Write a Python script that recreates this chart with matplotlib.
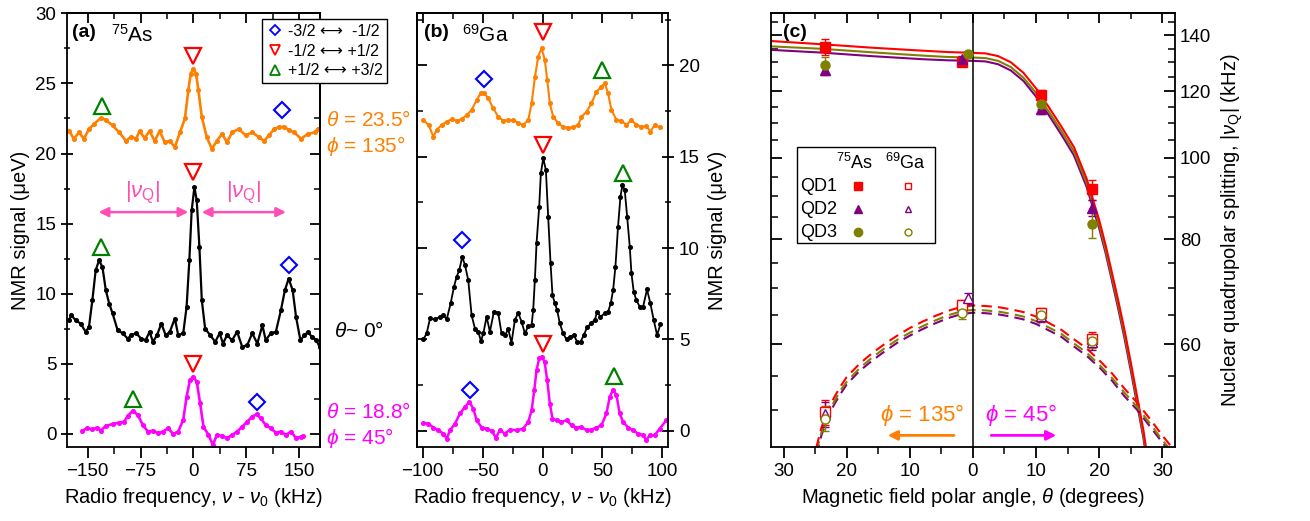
import numpy as np
import matplotlib.pyplot as plt
from matplotlib.lines import Line2D
from matplotlib.patches import Rectangle
from matplotlib.ticker import MultipleLocator, FixedLocator, FuncFormatter, NullFormatter

plt.rcParams['font.family'] = ['Liberation Sans', 'DejaVu Sans']
plt.rcParams['mathtext.fontset'] = 'custom'
plt.rcParams['mathtext.rm'] = 'Liberation Sans'
plt.rcParams['mathtext.it'] = 'Liberation Sans:italic'
plt.rcParams['mathtext.bf'] = 'Liberation Sans:bold'
plt.rcParams['axes.linewidth'] = 1.3

ORANGE = '#ff8000'
MAGENTA = '#ff00ff'
PINK = '#ff4fb4'
RED = '#ff0000'
PURPLE = '#800080'
OLIVE = '#808000'
GREEN = '#008000'
BLUE = '#0000ff'

# ---------------- panel (a): 75As spectra ----------------
a_orange_x = [-177, -169.8, -162.6, -155.5, -148.3, -141.1, -131.6, -124.4, -114.8, -105.3,
              -95.7, -88.5, -81.3, -76.5, -69.4, -62.2, -55.0, -47.8, -40.7, -33.5,
              -26.3, -19.1, -12.0, -7.2, -3.8, 0, 3.8, 7.2, 12, 19.1,
              26.3, 33.5, 40.7, 47.8, 55.0, 64.6, 74.1, 83.7, 93.3, 100.5,
              107.6, 114.8, 122.0, 129.2, 136.4, 143.5, 153.1, 162.7, 172.2, 177]
a_orange_y = [21.64, 21.05, 21.5, 21.05, 21.75, 22.1, 22.54, 22.4, 22.0, 21.5,
              20.9, 21.2, 21.05, 21.6, 21.1, 21.6, 20.9, 21.6, 20.8, 20.9,
              20.45, 21.5, 22.5, 24.5, 25.7, 26.03, 25.7, 24.5, 22.6, 21.16,
              20.33, 20.9, 21.4, 20.8, 21.5, 21.75, 21.3, 21.5, 21.16, 20.9,
              21.3, 21.75, 21.9, 21.9, 21.65, 21.5, 21.05, 21.4, 21.5, 21.75]

a_black_x = [-177, -173.2, -167.4, -160.2, -153.0, -148.3, -143.5, -138.8, -134, -129.2,
             -124.4, -119.6, -114.8, -107.7, -100.5, -93.3, -88.5, -81.3, -74.1, -67.9,
             -62.2, -57.4, -51.7, -45.5, -39.3, -33.5, -26.3, -21.5, -14.4, -9.6,
             -5.7, -2.4, 1.5, 4.8, 8.6, 12, 16.7, 23.9, 31.1, 37.3,
             42.1, 47.8, 55.0, 62.2, 69.4, 76.5, 83.7, 90.9, 98.1, 102.8,
             110.0, 117.2, 124.4, 130.1, 135.4, 141.1, 145.9, 152.1, 157.9, 162.7,
             168.4, 174.6, 179.4]
a_black_y = [8.11, 8.46, 8.11, 7.87, 7.28, 7.64, 9.54, 11.67, 12.38, 11.91,
             10.25, 9.3, 8.6, 7.41, 7.18, 6.8, 7.04, 7.18, 6.8, 6.69,
             7.28, 6.57, 7.04, 7.87, 7.04, 7.28, 8.23, 7.04, 7.18, 9.07,
             12.38, 15.94, 17.6, 16.65, 13.33, 9.54, 7.52, 7.04, 6.57, 7.18,
             6.45, 7.04, 6.69, 7.28, 6.22, 6.33, 7.18, 6.45, 7.75, 6.69,
             7.18, 7.28, 8.82, 10.25, 11.08, 10.25, 8.35, 6.69, 7.04, 7.28,
             6.93, 6.69, 6.22]

a_magenta_x = [-157.8, -150.7, -143.5, -136.4, -131.6, -124.4, -114.8, -105.3, -98.1, -93.3,
               -86.1, -78.9, -71.8, -64.6, -57.4, -50.2, -43.1, -35.9, -28.7, -21.5,
               -14.4, -9.6, -4.8, 0, 4.8, 9.6, 14.4, 21.5, 27.7, 33.5,
               40.7, 47.8, 55.0, 62.2, 69.4, 76.5, 83.7, 89.9, 95.7, 102.8,
               110.0, 117.2, 124.4, 131.6, 138.8, 146, 153.1, 155.5]
a_magenta_y = [0.24, 0.41, 0.33, 0.45, 0.24, 0.57, 0.71, 0.81, 0.88, 1.28,
               1.66, 1.35, 0.64, 0.17, 0.24, 0.05, 0.17, 0.41, 0.0, 0.17,
               1.0, 2.66, 3.84, 4.08, 3.72, 2.18, 0.52, -0.07, -0.78, -0.07,
               -0.14, -0.31, -0.07, 0.17, 0.52, 0.88, 1.24, 1.40, 1.12, 0.64,
               0.41, 0.09, 0.17, -0.07, 0.17, -0.31, -0.19, -0.14]

# transition markers (a): (x, y) for orange, black, magenta traces
a_diam_x = [125.9, 135.4, 90.9]
a_diam_y = [23.1, 12.03, 2.25]
a_down_x = [0, 0, 0]
a_down_y = [26.97, 18.67, 4.98]
a_up_x = [-129.2, -131.6, -85.2]
a_up_y = [23.4, 13.33, 2.47]

# ---------------- panel (b): 69Ga spectra ----------------
b_orange_x = [-99.5, -95.1, -91.1, -88.3, -84.2, -80.0, -75.8, -71.7, -67.5, -63.3,
              -59.2, -55.0, -51.7, -48.9, -45.3, -41.1, -37.0, -32.8, -28.6, -24.4,
              -20.3, -16.1, -11.9, -9.1, -6.3, -3.6, -0.8, 1.9, 3.9, 6.1,
              8.9, 13.1, 17.2, 21.4, 25.6, 29.7, 32.5, 36.7, 40.8, 45.0,
              49.2, 51.9, 54.7, 57.5, 61.7, 65.8, 70.0, 74.2, 78.3, 82.5,
              86.7, 90.0, 93.6, 97.8]
b_orange_y = [17.01, 16.74, 16.1, 16.48, 16.74, 16.92, 17.05, 16.98, 17.05, 17.28,
              17.56, 18.1, 18.47, 18.5, 18.19, 17.65, 17.19, 16.98, 17.01, 17.01,
              16.83, 16.74, 17.01, 17.92, 19.38, 20.48, 20.94, 20.3, 19.2, 17.92,
              17.19, 16.83, 16.64, 16.59, 16.61, 16.74, 17.19, 17.46, 17.92, 18.56,
              18.83, 19.02, 18.47, 17.56, 17.01, 16.98, 16.74, 17.01, 16.74, 16.64,
              16.68, 16.37, 16.74, 16.61]

b_black_x = [-99.5, -96.7, -93.9, -89.7, -85.6, -82.8, -80.0, -76.7, -73.9, -71.7,
             -69.5, -67.0, -64.7, -62.0, -59.2, -56.4, -53.6, -51.4, -49.4, -46.7,
             -43.9, -40.6, -37.0, -34.2, -31.4, -28.6, -25.9, -23.1, -20.3, -17.5,
             -14.7, -11.9, -9.1, -7.8, -6.4, -5.0, -2.8, -1.4, 0.6, 2.8,
             4.7, 6.7, 8.3, 10.3, 12.2, 14.4, 17.2, 20.0, 22.8, 26.1,
             28.9, 31.7, 34.4, 37.2, 40.8, 43.6, 45.6, 48.3, 51.9, 54.7,
             56.9, 58.9, 60.8, 63.0, 65.0, 66.7, 68.6, 70.6, 72.8, 74.2,
             76.1, 78.3, 81.1, 83.9, 87.2, 90.0, 92.8, 95.6, 98.3]
b_black_y = [5.0, 5.33, 6.15, 6.1, 6.24, 6.33, 6.1, 6.97, 7.88, 8.43,
             8.79, 9.52, 9.07, 8.25, 6.33, 5.6, 5.42, 4.91, 5.33, 6.24,
             5.42, 6.52, 6.46, 5.33, 5.24, 5.55, 4.82, 6.06, 6.46, 5.97,
             5.33, 5.73, 5.79, 6.61, 8.25, 10.26, 12.26, 14.09, 14.91, 14.27,
             11.72, 9.16, 7.43, 6.97, 6.61, 5.88, 5.33, 5.0, 5.15, 5.24,
             4.87, 4.87, 5.24, 5.66, 5.91, 6.06, 6.52, 6.24, 6.43, 6.52,
             6.97, 7.7, 8.97, 11.17, 12.81, 13.45, 13.17, 11.72, 10.07, 8.61,
             7.61, 7.15, 6.79, 6.79, 7.74, 6.97, 6.06, 5.24, 5.82]

b_magenta_x = [-99.5, -95.3, -91.1, -86.9, -82.8, -80.0, -77.2, -73.0, -68.9, -64.7,
               -61.1, -57.8, -55.0, -50.8, -46.7, -42.5, -38.9, -35.6, -31.4, -27.2,
               -21.7, -16.1, -11.9, -9.1, -6.9, -5.0, -2.8, -0.6, 1.7, 3.9,
               6.1, 8.3, 11.7, 15.8, 20.0, 24.2, 28.3, 32.5, 36.7, 40.8,
               45.0, 49.2, 53.3, 56.1, 58.9, 61.7, 64.4, 67.2, 71.4, 75.6,
               79.7, 83.9, 86.7, 89.4, 93.6, 97.8, 103.3]
b_magenta_y = [0.43, 0.4, 0.18, 0.03, -0.15, -0.42, 0.03, 0.4, 0.95, 1.31,
               1.58, 1.22, 0.58, 0.18, 0.12, 0.0, -0.37, 0.03, -0.15, 0.07,
               0.03, 0.12, 0.49, 1.13, 2.22, 3.32, 3.96, 4.05, 3.78, 2.77,
               1.49, 0.67, 0.58, 0.49, 0.58, 0.3, 0.18, 0.21, 0.03, 0.07,
               0.18, 0.3, 0.95, 1.86, 2.26, 1.95, 0.95, 0.49, 0.18, 0.03,
               -0.15, -0.24, -0.51, -0.24, -0.24, 0.12, 0.58]

b_diam_x = [-48.9, -67.0, -60.6]
b_diam_y = [19.24, 10.44, 2.26]
b_down_x = [0, 0, 0]
b_down_y = [21.85, 15.64, 4.74]
b_up_x = [49.6, 67.2, 59.4]
b_up_y = [19.75, 14.09, 2.99]

# ---------------- panel (c): quadrupolar splitting vs angle ----------------
# negative theta = phi 135 deg side, positive = phi 45 deg side
c_theta = [-23.5, -1.8, 10.8, 18.8]
c_theta_qd3 = [-23.5, -0.8, 10.8, 18.8]
as_qd1 = [135.7, 130.1, 118.9, 91.7]
as_qd1_err = [3.0, 1.5, 1.5, 2.5]
as_qd2 = [127.4, 131.0, 114.4, 87.2]
as_qd2_err = [2.0, 1.2, 1.5, 2.0]
as_qd3 = [128.9, 133.1, 116.0, 83.3]
as_qd3_err = [3.0, 1.0, 1.5, 3.0]
ga_qd1 = [49.8, 66.8, 65.3, 60.8]
ga_qd1_err = [1.7, 1.0, 1.0, 1.2]
ga_qd2 = [49.5, 68.0, 64.8, 60.3]
ga_qd2_err = [1.7, 1.0, 1.0, 1.2]
ga_qd3 = [48.9, 65.3, 65.0, 60.5]
ga_qd3_err = [1.7, 1.0, 1.0, 1.2]

# fitted curves
as_fit_theta = [-32, -24, -16, -8, -4, 0, 2, 4, 6, 8, 10, 12, 14, 16, 18, 20, 21, 22, 23, 24, 25, 26, 27, 27.6]
as_fit_qd1 = [137.8, 136.6, 135.3, 134.2, 133.7, 133.4, 133.2, 132.2, 130.0, 126.3, 121.0, 115.0,
              109.0, 103.0, 94.5, 84.3, 78.8, 73.1, 67.7, 62.4, 57.1, 52.0, 47.4, 44.2]
as_fit_qd3 = [135.8, 134.9, 133.6, 132.4, 131.9, 131.7, 131.5, 130.5, 128.3, 124.6, 119.5, 113.6,
              107.7, 101.8, 93.4, 83.3, 77.8, 72.2, 66.9, 61.6, 56.4, 51.4, 46.8, 43.7]
as_fit_qd2 = [134.5, 133.5, 132.2, 131.1, 130.7, 130.5, 130.3, 129.3, 127.1, 123.5, 118.3, 112.5,
              106.6, 100.7, 92.4, 82.4, 77.1, 71.5, 66.2, 61.0, 55.8, 50.9, 46.4, 43.2]

ga_fit_theta = [-24.8, -24, -23, -22, -21, -20, -18, -16, -14, -12, -10, -8, -6, -4, -2,
                0, 2, 4, 6, 8, 10, 12, 14, 16, 18, 20, 22, 24, 26, 28, 30, 31.6]
ga_fit_qd1 = [45.2, 47.7, 50.0, 51.8, 53.4, 54.8, 56.8, 58.5, 60.0, 61.4, 62.7, 63.8, 64.8, 65.7, 66.4,
              66.7, 66.6, 66.4, 66.0, 65.5, 64.7, 63.6, 62.4, 60.8, 59.3, 57.4, 55.4, 53.1, 51.1, 48.9, 46.7, 45.1]
ga_fit_qd3 = [44.7, 47.1, 49.4, 51.2, 52.8, 54.1, 56.1, 57.8, 59.3, 60.7, 61.9, 63.0, 64.0, 64.9, 65.6,
              65.9, 65.8, 65.6, 65.2, 64.7, 63.9, 62.8, 61.7, 60.1, 58.6, 56.7, 54.7, 52.5, 50.5, 48.3, 46.1, 44.6]
ga_fit_qd2 = [44.3, 46.7, 49.0, 50.8, 52.3, 53.7, 55.7, 57.3, 58.8, 60.2, 61.4, 62.5, 63.5, 64.4, 65.1,
              65.4, 65.3, 65.1, 64.7, 64.2, 63.4, 62.3, 61.2, 59.6, 58.1, 56.3, 54.3, 52.0, 50.1, 47.9, 45.8, 44.2]

# ---------------- figure ----------------
fig = plt.figure(figsize=(13.1, 5.21), dpi=100)
axa = fig.add_axes([0.0509, 0.1415, 0.1934, 0.833])
axb = fig.add_axes([0.3181, 0.1415, 0.1921, 0.833])
axc = fig.add_axes([0.5885, 0.1415, 0.3084, 0.833])

TS = 13.5
LS = 14.5


def top_ticks(ax, maj, mnr):
    sec = ax.secondary_xaxis('top')
    sec.xaxis.set_major_locator(maj)
    sec.xaxis.set_minor_locator(mnr)
    sec.xaxis.set_major_formatter(NullFormatter())
    sec.tick_params(which='major', direction='in', length=7, width=1.3)
    sec.tick_params(which='minor', direction='in', length=4, width=1.1)
    sec.spines['top'].set_linewidth(1.3)
    return sec


def side_ticks(ax, side, maj, mnr):
    sec = ax.secondary_yaxis(side)
    sec.yaxis.set_major_locator(maj)
    sec.yaxis.set_minor_locator(mnr)
    sec.yaxis.set_major_formatter(NullFormatter())
    sec.yaxis.set_minor_formatter(NullFormatter())
    sec.tick_params(which='major', direction='in', length=7, width=1.3)
    sec.tick_params(which='minor', direction='in', length=4, width=1.1)
    sec.spines[side].set_linewidth(1.3)
    return sec


def spectrum(ax, x, y, c, lw):
    ax.plot(x, y, '-o', color=c, lw=lw, ms=2.6, mfc=c, mec=c)


def markers(ax, dx, dy, vx, vy, ux, uy):
    ax.plot(dx, dy, ls='none', marker='D', mfc='none', mec=BLUE, ms=8, mew=1.5)
    ax.plot(vx, vy, ls='none', marker='v', mfc='none', mec=RED, ms=11, mew=1.6)
    ax.plot(ux, uy, ls='none', marker='^', mfc='none', mec=GREEN, ms=11, mew=1.6)


# panel (a)
spectrum(axa, a_orange_x, a_orange_y, ORANGE, 1.9)
spectrum(axa, a_black_x, a_black_y, 'black', 1.6)
spectrum(axa, a_magenta_x, a_magenta_y, MAGENTA, 1.9)
markers(axa, a_diam_x, a_diam_y, a_down_x, a_down_y, a_up_x, a_up_y)
axa.set_xlim(-180, 180)
axa.set_ylim(-0.95, 30)
axa.xaxis.set_major_locator(MultipleLocator(75))
axa.xaxis.set_minor_locator(MultipleLocator(37.5))
axa.yaxis.set_major_locator(MultipleLocator(5))
axa.yaxis.set_minor_locator(MultipleLocator(2.5))
axa.tick_params(axis='x', which='both', direction='out', labelsize=TS)
axa.tick_params(axis='y', which='both', direction='inout', labelsize=TS, right=False)
axa.tick_params(which='major', length=8, width=1.3)
axa.tick_params(which='minor', length=5, width=1.1)
top_ticks(axa, MultipleLocator(75), MultipleLocator(37.5))
side_ticks(axa, 'right', MultipleLocator(5), MultipleLocator(2.5))
axa.set_xlabel(r'Radio frequency, $\nu$ - $\nu_0$ (kHz)', fontsize=LS)
axa.set_ylabel('NMR signal (\u03bceV)', fontsize=LS, labelpad=4)
axa.text(0.02, 0.975, '(a)', transform=axa.transAxes, fontsize=14, fontweight='bold', va='top')
axa.text(0.175, 0.975, r'$^{75}$As', transform=axa.transAxes, fontsize=15, va='top')

for x0, x1 in [(-134.6, -7.2), (12.0, 131.6)]:
    axa.annotate('', xy=(x0, 15.82), xytext=(x1, 15.82),
                 arrowprops=dict(arrowstyle='<|-|>', color=PINK, lw=1.8,
                                 mutation_scale=14, shrinkA=0, shrinkB=0))
axa.text(-71.8, 17.2, r'|$\nu_\mathrm{Q}$|', color=PINK, fontsize=16, ha='center', va='center')
axa.text(71.6, 17.2, r'|$\nu_\mathrm{Q}$|', color=PINK, fontsize=16, ha='center', va='center')

leg_a = [Line2D([], [], ls='none', marker='D', mfc='none', mec=BLUE, ms=5.5, mew=1.3,
                label='-3/2 \u27f7  -1/2'),
         Line2D([], [], ls='none', marker='v', mfc='none', mec=RED, ms=7, mew=1.3,
                label='-1/2 \u27f7 +1/2'),
         Line2D([], [], ls='none', marker='^', mfc='none', mec=GREEN, ms=7, mew=1.3,
                label='+1/2 \u27f7 +3/2')]
lg = fig.legend(handles=leg_a, loc='upper left', bbox_to_anchor=(262 / 1310, 1 - 19 / 521),
                frameon=True, fancybox=False, edgecolor='black', framealpha=1,
                fontsize=11.5, handletextpad=0.3, borderpad=0.3, labelspacing=0.3,
                handlelength=1.0, borderaxespad=0)
lg.get_frame().set_linewidth(1.0)

# labels between (a) and (b)
fig.text(326 / 1310, 1 - 120 / 521, r'$\theta$ = 23.5°', color=ORANGE, fontsize=15, va='center')
fig.text(326 / 1310, 1 - 146 / 521, r'$\phi$ = 135°', color=ORANGE, fontsize=15, va='center')
fig.text(334 / 1310, 1 - 331 / 521, r'$\theta$~ 0°', color='black', fontsize=15, va='center')
fig.text(326 / 1310, 1 - 412 / 521, r'$\theta$ = 18.8°', color=MAGENTA, fontsize=15, va='center')
fig.text(326 / 1310, 1 - 438 / 521, r'$\phi$ = 45°', color=MAGENTA, fontsize=15, va='center')

# panel (b)
spectrum(axb, b_orange_x, b_orange_y, ORANGE, 1.5)
spectrum(axb, b_black_x, b_black_y, 'black', 1.3)
spectrum(axb, b_magenta_x, b_magenta_y, MAGENTA, 1.8)
markers(axb, b_diam_x, b_diam_y, b_down_x, b_down_y, b_up_x, b_up_y)
axb.set_xlim(-105, 105)
axb.set_ylim(-0.9, 22.85)
axb.xaxis.set_major_locator(MultipleLocator(50))
axb.xaxis.set_minor_locator(MultipleLocator(25))
axb.yaxis.set_major_locator(MultipleLocator(5))
axb.yaxis.set_minor_locator(MultipleLocator(2.5))
axb.yaxis.tick_right()
axb.yaxis.set_label_position('right')
axb.tick_params(axis='x', which='both', direction='out', labelsize=TS)
axb.tick_params(axis='y', which='both', direction='inout', labelsize=TS, left=False)
axb.tick_params(which='major', length=8, width=1.3)
axb.tick_params(which='minor', length=5, width=1.1)
top_ticks(axb, MultipleLocator(50), MultipleLocator(25))
side_ticks(axb, 'left', MultipleLocator(5), MultipleLocator(2.5))
axb.set_xlabel(r'Radio frequency, $\nu$ - $\nu_0$ (kHz)', fontsize=LS)
axb.set_ylabel('NMR signal (\u03bceV)', fontsize=LS, labelpad=6)
axb.text(0.03, 0.975, '(b)', transform=axb.transAxes, fontsize=14, fontweight='bold', va='top')
axb.text(0.18, 0.975, r'$^{69}$Ga', transform=axb.transAxes, fontsize=15, va='top')

# panel (c)
axc.set_yscale('log')
for th, val, c in [(as_fit_theta, as_fit_qd2, PURPLE), (as_fit_theta, as_fit_qd3, OLIVE),
                   (as_fit_theta, as_fit_qd1, RED)]:
    axc.plot(th, val, '-', color=c, lw=1.5)
for th, val, c in [(ga_fit_theta, ga_fit_qd2, PURPLE), (ga_fit_theta, ga_fit_qd3, OLIVE),
                   (ga_fit_theta, ga_fit_qd1, RED)]:
    axc.plot(th, val, '--', color=c, lw=1.5, dashes=(5, 3))

ekw = dict(capsize=3, elinewidth=1.0, capthick=1.0, ls='none', ms=6.5, zorder=4)
axc.errorbar(c_theta, as_qd1, yerr=as_qd1_err, fmt='s', color=RED, **ekw)
axc.errorbar(c_theta, as_qd2, yerr=as_qd2_err, fmt='^', color=PURPLE, **ekw)
axc.errorbar(c_theta_qd3, as_qd3, yerr=as_qd3_err, fmt='o', color=OLIVE, **ekw)
axc.errorbar(c_theta, ga_qd1, yerr=ga_qd1_err, fmt='s', color=RED, mfc='white', **ekw)
axc.errorbar(c_theta_qd3, ga_qd2, yerr=ga_qd2_err, fmt='^', color=PURPLE, mfc='white', **ekw)
axc.errorbar(c_theta, ga_qd3, yerr=ga_qd3_err, fmt='o', color=OLIVE, mfc='white', **ekw)

axc.axvline(0, color='black', lw=1.1)
axc.set_xlim(-32, 32)
axc.set_ylim(45.2, 148.7)
axc.xaxis.set_major_locator(MultipleLocator(10))
axc.xaxis.set_minor_locator(MultipleLocator(5))
axc.xaxis.set_major_formatter(FuncFormatter(lambda v, p: '%d' % abs(round(v))))
axc.yaxis.set_major_locator(FixedLocator([60, 80, 100, 120, 140]))
axc.yaxis.set_minor_locator(FixedLocator([45, 50, 55, 65, 70, 75, 85, 90, 95, 105, 110,
                                          115, 125, 130, 135, 145]))
axc.yaxis.set_major_formatter(FuncFormatter(lambda v, p: '%d' % v))
axc.yaxis.set_minor_formatter(NullFormatter())
axc.yaxis.tick_right()
axc.yaxis.set_label_position('right')
axc.tick_params(axis='y', which='both', direction='in', left=True, right=True,
                labelleft=False, labelright=True, labelsize=TS)
axc.tick_params(axis='x', which='both', direction='out', labelsize=TS)
axc.tick_params(which='major', length=8, width=1.3)
axc.tick_params(which='minor', length=5, width=1.1)
top_ticks(axc, MultipleLocator(10), MultipleLocator(5))
axc.set_xlabel(r'Magnetic field polar angle, $\theta$ (degrees)', fontsize=LS)
axc.set_ylabel(r'Nuclear quadrupolar splitting, |$\nu_\mathrm{Q}$| (kHz)', fontsize=LS, labelpad=6)
axc.text(0.03, 0.975, '(c)', transform=axc.transAxes, fontsize=14, fontweight='bold', va='top')

axc.annotate('', xy=(-13.5, 46.7), xytext=(-3.0, 46.7),
             arrowprops=dict(arrowstyle='-|>', color=ORANGE, lw=2, mutation_scale=14,
                             shrinkA=0, shrinkB=0))
axc.annotate('', xy=(13.2, 46.7), xytext=(2.9, 46.7),
             arrowprops=dict(arrowstyle='-|>', color=MAGENTA, lw=2, mutation_scale=14,
                             shrinkA=0, shrinkB=0))
axc.text(-8.0, 49.4, r'$\phi$ = 135°', color=ORANGE, fontsize=16, ha='center', va='center')
axc.text(7.6, 49.4, r'$\phi$ = 45°', color=MAGENTA, fontsize=16, ha='center', va='center')

# legend box of panel (c)
axc.add_patch(Rectangle((0.064, 0.470), 0.342, 0.221, transform=axc.transAxes,
                        fc='white', ec='black', lw=1.0, zorder=5))
axc.text(0.208, 0.654, r'$^{75}$As', transform=axc.transAxes, fontsize=13,
         ha='center', va='center', zorder=6)
axc.text(0.332, 0.654, r'$^{69}$Ga', transform=axc.transAxes, fontsize=13,
         ha='center', va='center', zorder=6)
for row_y, name, mk, c in [(0.601, 'QD1', 's', RED), (0.548, 'QD2', '^', PURPLE),
                           (0.495, 'QD3', 'o', OLIVE)]:
    axc.text(0.072, row_y, name, transform=axc.transAxes, fontsize=13, va='center', zorder=6)
    axc.plot([0.215], [row_y], marker=mk, color=c, ms=6, transform=axc.transAxes,
             zorder=6, clip_on=False)
    axc.plot([0.339], [row_y], marker=mk, mec=c, mfc='white', mew=1.0, ms=5,
             transform=axc.transAxes, zorder=6, clip_on=False)

fig.savefig('out.png', dpi=100)
